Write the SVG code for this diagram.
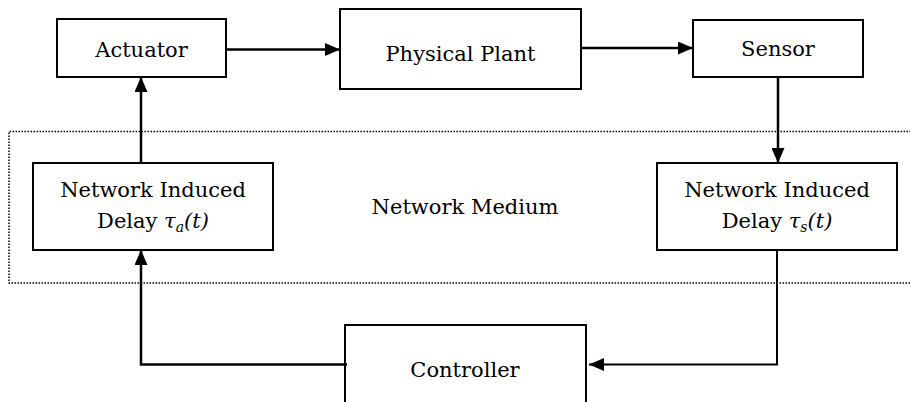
<svg xmlns="http://www.w3.org/2000/svg" width="910" height="402" viewBox="0 0 910 402">
<style>
.box{fill:#fff;stroke:#000;stroke-width:2}
.c{fill:none;stroke:#000;stroke-width:2.5}
.c2{fill:none;stroke:#000;stroke-width:2}
.dot{fill:none;stroke:#000;stroke-width:1.5;stroke-dasharray:1.5 1.5}
</style>
<defs>
<marker id="ah" markerWidth="15" markerHeight="13" refX="15" refY="6.5" orient="auto" markerUnits="userSpaceOnUse">
<path d="M0,0 L15,6.5 L0,13 Z" fill="#000"/>
</marker>
</defs>
<g font-family="DejaVu Serif, serif" font-size="21" fill="#000" text-anchor="middle">
<g id="network-medium">
<path class="dot" d="M920,131.5 H9 V283 H920"/>
<text x="465" y="214">Network Medium</text>
</g>
<g id="actuator">
<rect class="box" x="57" y="19" width="169" height="58"/>
<text x="141.5" y="57">Actuator</text>
</g>
<g id="physical-plant">
<rect class="box" x="340" y="9" width="241" height="80"/>
<text x="460.5" y="61">Physical Plant</text>
</g>
<g id="sensor">
<rect class="box" x="693" y="20" width="170" height="57"/>
<text x="778" y="56">Sensor</text>
</g>
<g id="delay-a">
<rect class="box" x="33" y="163" width="240" height="87"/>
<text x="153" y="197">Network Induced</text>
<text x="153" y="228">Delay <tspan font-style="italic">τ</tspan><tspan font-style="italic" font-size="14" dy="4">a</tspan><tspan font-style="italic" dy="-4">(t)</tspan></text>
</g>
<g id="delay-s">
<rect class="box" x="657" y="163" width="240" height="87"/>
<text x="777" y="197">Network Induced</text>
<text x="777" y="228">Delay <tspan font-style="italic">τ</tspan><tspan font-style="italic" font-size="14" dy="4">s</tspan><tspan font-style="italic" dy="-4">(t)</tspan></text>
</g>
<g id="controller">
<rect class="box" x="345" y="325" width="241" height="90"/>
<text x="465" y="377">Controller</text>
</g>
</g>
<g id="connectors">
<path class="c" d="M226,49.5 H340" marker-end="url(#ah)"/>
<path class="c" d="M581,48 H693" marker-end="url(#ah)"/>
<path class="c" d="M778,77 V163" marker-end="url(#ah)"/>
<path class="c" d="M141,163 V77" marker-end="url(#ah)"/>
<path class="c" d="M347,364.5 H141 V250" marker-end="url(#ah)"/>
<path class="c2" d="M777,250 V364.5 H589" marker-end="url(#ah)"/>
</g>
</svg>
